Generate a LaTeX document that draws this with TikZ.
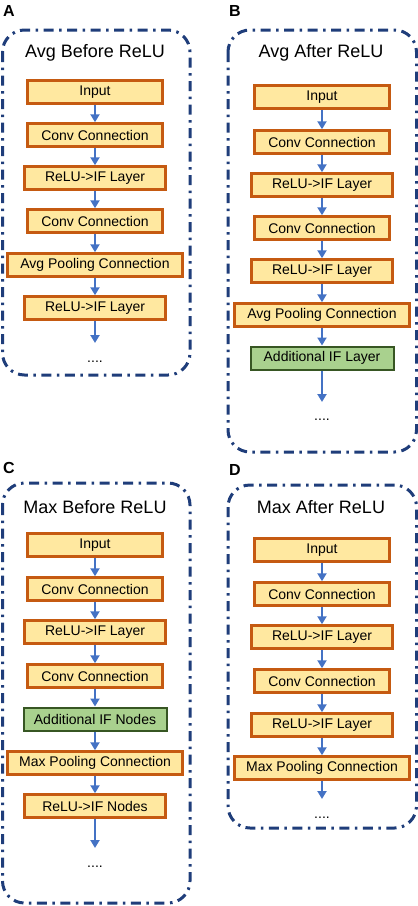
\documentclass[tikz,border=0pt]{standalone}
\usepackage{fontspec}
\setmainfont{Liberation Sans}
\usetikzlibrary{arrows.meta}
\definecolor{boxfill}{HTML}{FFE8A0}
\definecolor{boxline}{HTML}{C55A11}
\definecolor{greenfill}{HTML}{A9D18E}
\definecolor{greenline}{HTML}{375623}
\definecolor{arrowblue}{HTML}{4472C4}
\definecolor{panelblue}{HTML}{1F3D7A}
\tikzset{
 layer/.style={draw=boxline, fill=boxfill, line width=2.5pt, minimum height=23pt, inner sep=0pt, font=\fontsize{14}{16}\selectfont},
 wn/.style={layer, minimum width=135pt},
 rn/.style={layer, minimum width=141pt},
 pn/.style={layer, minimum width=175pt},
 gn/.style={layer, draw=greenline, fill=greenfill, line width=2pt, minimum width=143pt},
 flow/.style={draw=arrowblue, line width=2pt, -{Triangle[width=9pt,length=8pt]}},
 panel/.style={draw=panelblue, line width=3pt, rounded corners=22pt, dash pattern=on 10pt off 5.5pt on 2.5pt off 5.5pt},
 ttl/.style={font=\fontsize{18}{20}\selectfont, inner sep=0pt},
 lbl/.style={font=\bfseries\fontsize{16}{18}\selectfont, inner sep=0pt},
 dotsn/.style={font=\fontsize{14}{16}\selectfont, inner sep=0pt, anchor=base},
}
\begin{document}
\begin{tikzpicture}[x=1pt,y=-1pt]
\useasboundingbox (0,0) rectangle (418,906);
% ---------- Panel A ----------
\node[lbl] (la) at (9,11) {A};
\draw[panel] (2.5,30) rectangle (190,375);
\node[ttl] (ta) at (95,53) {Avg Before ReLU};
\node[wn] (a1) at (95,92) {Input};
\node[wn] (a2) at (95,135) {Conv Connection};
\node[rn] (a3) at (95,178) {ReLU->IF Layer};
\node[wn] (a4) at (95,221) {Conv Connection};
\node[pn] (a5) at (95,265) {Avg Pooling Connection};
\node[rn] (a6) at (95,308) {ReLU->IF Layer};
\coordinate (a7) at (95,343);
\node[dotsn] (ad) at (95,362) {....};
\draw[flow] (a1) -- (a2);
\draw[flow] (a2) -- (a3);
\draw[flow] (a3) -- (a4);
\draw[flow] (a4) -- (a5);
\draw[flow] (a5) -- (a6);
\draw[flow] (a6) -- (a7);
% ---------- Panel B ----------
\node[lbl] (lb) at (235,11) {B};
\draw[panel] (228,30) rectangle (416.5,452);
\node[ttl] (tb) at (321,53) {Avg After ReLU};
\node[wn] (b1) at (322,97) {Input};
\node[wn] (b2) at (322,142) {Conv Connection};
\node[rn] (b3) at (322,185) {ReLU->IF Layer};
\node[wn] (b4) at (322,228) {Conv Connection};
\node[rn] (b5) at (322,271) {ReLU->IF Layer};
\node[pn] (b6) at (322,315) {Avg Pooling Connection};
\node[gn] (b7) at (322,358) {Additional IF Layer};
\coordinate (b8) at (322,402);
\node[dotsn] (bd) at (322,420) {....};
\draw[flow] (b1) -- (b2);
\draw[flow] (b2) -- (b3);
\draw[flow] (b3) -- (b4);
\draw[flow] (b4) -- (b5);
\draw[flow] (b5) -- (b6);
\draw[flow] (b6) -- (b7);
\draw[flow] (b7) -- (b8);
% ---------- Panel C ----------
\node[lbl] (lc) at (9,468) {C};
\draw[panel] (2.5,483) rectangle (190,903);
\node[ttl] (tc) at (95,507) {Max Before ReLU};
\node[wn] (c1) at (95,545) {Input};
\node[wn] (c2) at (95,589) {Conv Connection};
\node[rn] (c3) at (95,632) {ReLU->IF Layer};
\node[wn] (c4) at (95,676) {Conv Connection};
\node[gn] (c5) at (95,719) {Additional IF Nodes};
\node[pn] (c6) at (95,763) {Max Pooling Connection};
\node[rn] (c7) at (95,806) {ReLU->IF Nodes};
\coordinate (c8) at (95,848);
\node[dotsn] (cd) at (95,867) {....};
\draw[flow] (c1) -- (c2);
\draw[flow] (c2) -- (c3);
\draw[flow] (c3) -- (c4);
\draw[flow] (c4) -- (c5);
\draw[flow] (c5) -- (c6);
\draw[flow] (c6) -- (c7);
\draw[flow] (c7) -- (c8);
% ---------- Panel D ----------
\node[lbl] (ld) at (235,470) {D};
\draw[panel] (228,485) rectangle (416.5,828);
\node[ttl] (td) at (321,507) {Max After ReLU};
\node[wn] (d1) at (322,550) {Input};
\node[wn] (d2) at (322,594) {Conv Connection};
\node[rn] (d3) at (322,637) {ReLU->IF Layer};
\node[wn] (d4) at (322,681) {Conv Connection};
\node[rn] (d5) at (322,725) {ReLU->IF Layer};
\node[pn] (d6) at (322,768) {Max Pooling Connection};
\coordinate (d7) at (322,799);
\node[dotsn] (dd) at (322,818) {....};
\draw[flow] (d1) -- (d2);
\draw[flow] (d2) -- (d3);
\draw[flow] (d3) -- (d4);
\draw[flow] (d4) -- (d5);
\draw[flow] (d5) -- (d6);
\draw[flow] (d6) -- (d7);
\end{tikzpicture}
\end{document}
